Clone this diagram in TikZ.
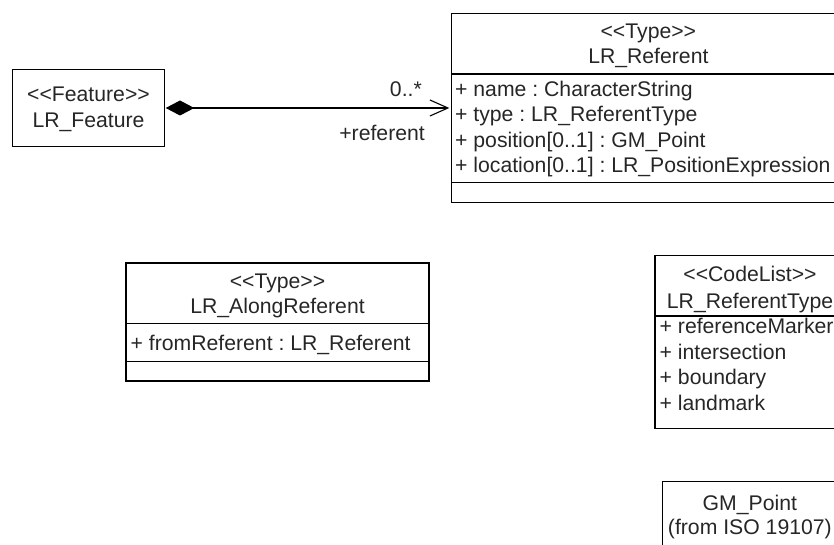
\documentclass[tikz,border=0pt]{standalone}
\usepackage{fontspec}
\setmainfont{Liberation Sans}
\usetikzlibrary{arrows.meta}
\newcommand\umlfs{\fontsize{21.2pt}{25.4pt}\selectfont\frenchspacing}
\newcommand\stlo{<\kern0pt<}
\newcommand\stlc{>\kern0pt>}
\definecolor{umltext}{gray}{0.15}
\begin{document}
\begin{tikzpicture}[x=1pt,y=-1pt,
  box/.style={draw, line width=1.1pt, inner sep=0pt, outer sep=0pt},
  lbl/.style={font=\umlfs, text=umltext, inner sep=0pt, anchor=base},
  attr/.style={font=\umlfs, text=umltext, inner sep=0pt, anchor=base west},
  sepline/.style={line width=1.1pt},
  assoc/.style={line width=1.1pt, {Diamond[length=28.6pt,width=15pt]}-{Straight Barb[length=18pt,width=16pt]}}]
\useasboundingbox (0,0) rectangle (834,545);

% class boxes
\node[box, minimum width=151.6pt, minimum height=76.7pt] (feat) at (88.5,108) {};
\node[box, minimum width=393.3pt, minimum height=189.4pt] (ref) at (648.35,108) {};
\node[box, minimum width=303pt, minimum height=118pt] (along) at (277.5,322) {};
\node[box, minimum width=190pt, minimum height=172.6pt] (codelist) at (750,342) {};
\node[box, minimum width=174.3pt, minimum height=80pt] (gmpoint) at (749.85,521.7) {};

% compartment lines
\draw[sepline] (ref.west |- 0,74) -- (ref.east |- 0,74);
\draw[sepline] (ref.west |- 0,182.7) -- (ref.east |- 0,182.7);
\draw[sepline] (along.west |- 0,323.5) -- (along.east |- 0,323.5);
\draw[sepline] (along.west |- 0,361.7) -- (along.east |- 0,361.7);
\draw[sepline] (codelist.west |- 0,316) -- (codelist.east |- 0,316);

% LR_Feature
\node[lbl] (featst) at (88.5,102) {\stlo Feature\stlc};
\node[lbl] (featnm) at (88.5,127.3) {LR\_Feature};

% LR_Referent
\node[lbl] (refst) at (648.35,38.6) {\stlo Type\stlc};
\node[lbl] (refnm) at (648.35,64) {LR\_Referent};
\node[attr] (refa1) at (455,96.5) {+ name : CharacterString};
\node[attr] (refa2) at (455,121.9) {+ type : LR\_ReferentType};
\node[attr] (refa3) at (455,147.3) {+ position[0..1] : GM\_Point};
\node[attr] (refa4) at (455,172.7) {+ location[0..1] : LR\_PositionExpression};

% LR_AlongReferent
\node[lbl] (alongst) at (277.5,288) {\stlo Type\stlc};
\node[lbl] (alongnm) at (277.5,313.3) {LR\_AlongReferent};
\node[attr] (alonga1) at (130.5,350.5) {+ fromReferent : LR\_Referent};

% LR_ReferentType
\node[lbl] (codest) at (750,281) {\stlo CodeList\stlc};
\node[lbl] (codenm) at (750,308.5) {LR\_ReferentType};
\node[attr] (codea1) at (659.5,333.5) {+ referenceMarker};
\node[attr] (codea2) at (659.5,359) {+ intersection};
\node[attr] (codea3) at (659.5,384.5) {+ boundary};
\node[attr] (codea4) at (659.5,410) {+ landmark};

% GM_Point
\node[lbl] (gmnm) at (749.85,510) {GM\_Point};
\node[lbl] (gmsrc) at (749.85,534) {(from ISO 19107)};

% association
\draw[assoc, shorten <=1.4pt, shorten >=2.4pt] (feat.east) -- (ref.west);
\node[lbl, anchor=base east] (mult) at (422,96.7) {0..*};
\node[lbl, anchor=base east] (role) at (425,140.7) {+referent};
\end{tikzpicture}
\end{document}
